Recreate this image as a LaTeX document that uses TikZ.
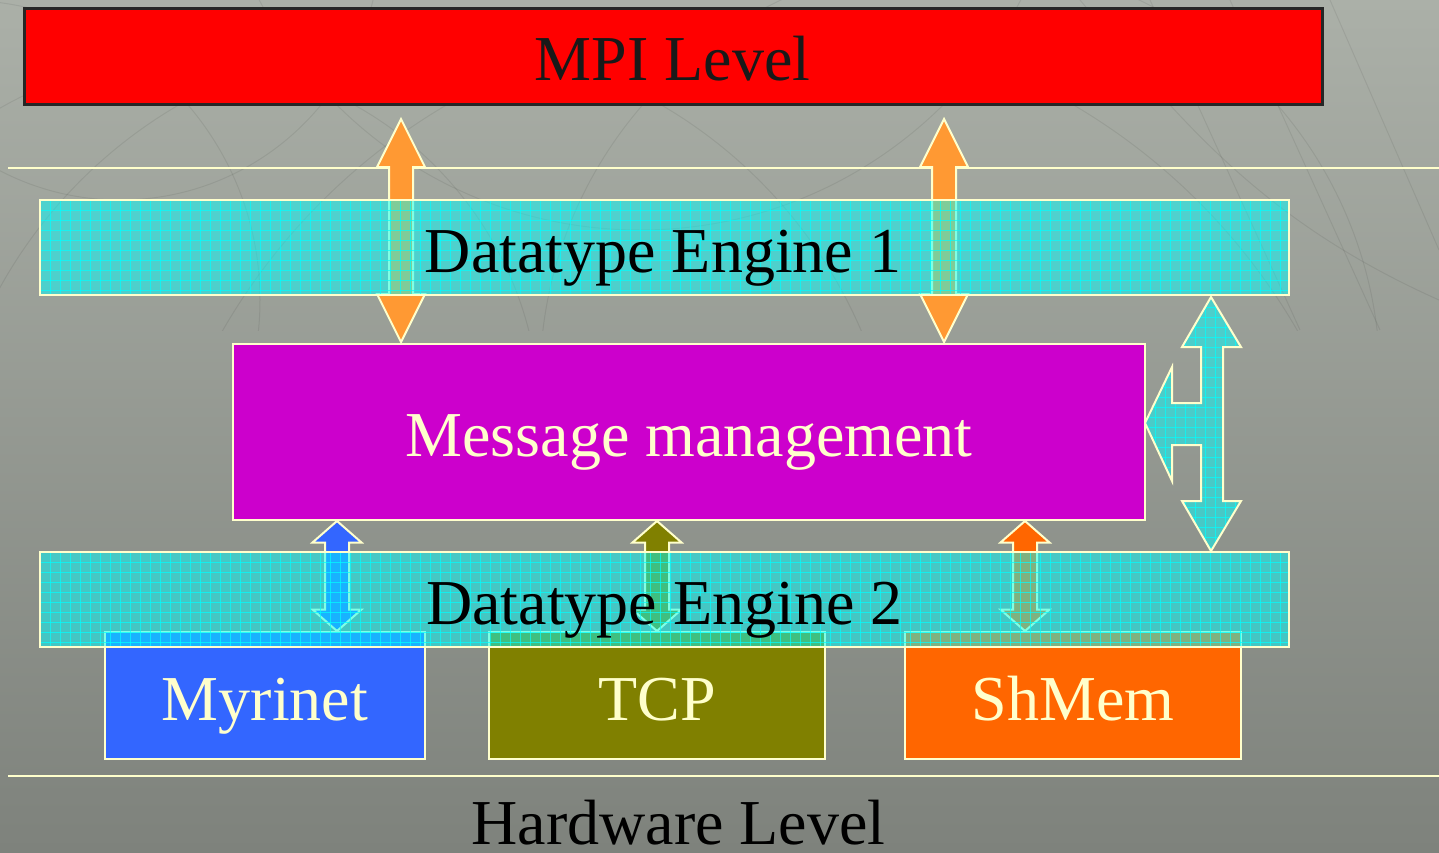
\documentclass[tikz,border=0pt]{standalone}
\usepackage{fontspec}
\setmainfont{Liberation Serif}
\usetikzlibrary{calc}

\definecolor{bgtop}{HTML}{ABB0A8}
\definecolor{bgbot}{HTML}{7E827C}
\definecolor{cream}{HTML}{FFFFCC}
\definecolor{mpired}{HTML}{FF0000}
\definecolor{mag}{HTML}{CC00CC}
\definecolor{ora}{HTML}{FF9933}
\definecolor{myri}{HTML}{3366FF}
\definecolor{tcpol}{HTML}{808000}
\definecolor{shm}{HTML}{FF6600}
\definecolor{cyanfill}{HTML}{00FFFF}

% vertical double block arrow: #1 style, #2 x, #3 top tip y, #4 bottom tip y
% shaft half width \aw, head half width \ah, head length \al
\newcommand\dblarrow[4]{%
  \path[#1] (#2,#3) -- ({#2+\ah},{#3+\al}) -- ({#2+\aw},{#3+\al})
    -- ({#2+\aw},{#4-\al}) -- ({#2+\ah},{#4-\al}) -- (#2,#4)
    -- ({#2-\ah},{#4-\al}) -- ({#2-\aw},{#4-\al}) -- ({#2-\aw},{#3+\al})
    -- ({#2-\ah},{#3+\al}) -- cycle;}

% mesh of thin cyan lines, 10pt apart, clipped to the current path
\newcommand\meshlines{%
  \foreach \i in {0,10,...,1260}
    \draw[cyanfill, line width=1pt, draw opacity=.7]
      ([xshift=\i pt]path picture bounding box.north west) --
      ([xshift=\i pt]path picture bounding box.south west);
  \foreach \j in {0,10,...,260}
    \draw[cyanfill, line width=1pt, draw opacity=.7]
      ([yshift=-\j pt]path picture bounding box.north west) --
      ([yshift=-\j pt]path picture bounding box.north east);}

\tikzset{
  box/.style={draw=cream, line width=2pt, inner sep=0pt, outer sep=0pt, anchor=north west},
  meshfill/.style={fill=cyanfill, fill opacity=.5, text opacity=1,
    path picture={\meshlines}},
  debox/.style={box, meshfill},
  barrow/.style={draw=cream, line width=2pt, fill=#1, line join=miter},
  lbl/.style={font=\fontsize{64}{64}\selectfont, anchor=base, inner sep=0pt},
  sepline/.style={cream, line width=2pt},
  bgcurve/.style={black, line width=1pt, draw opacity=.07},
}

\begin{document}
\begin{tikzpicture}[x=1pt,y=-1pt]
  \useasboundingbox (0,0) rectangle (1439,852);
  % backdrop
  \shade[top color=bgtop, bottom color=bgbot] (0,0) rectangle (1439,852);
  \begin{scope}
    \clip (0,0) rectangle (1439,330);
    \draw[bgcurve] (180,420) circle[radius=360];
    \draw[bgcurve] (120,-60) circle[radius=260];
    \draw[bgcurve] (420,520) circle[radius=480];
    \draw[bgcurve] (760,640) circle[radius=620];
    \draw[bgcurve] (960,380) circle[radius=420];
    \draw[bgcurve] (-40,300) circle[radius=300];
    \draw[bgcurve] (640,-200) circle[radius=430];
    \draw[bgcurve] (1150,0) -- (1300,330);
    \draw[bgcurve] (1230,0) -- (1380,330);
    \draw[bgcurve] (1330,0) -- (1439,250);
    \draw[bgcurve] (1080,0) .. controls (1180,120) and (1260,220) .. (1439,300);
  \end{scope}

  % separators of the two levels
  \coordinate (ltopL) at (8,168);   \coordinate (ltopR) at (1439,168);
  \coordinate (lbotL) at (8,776);   \coordinate (lbotR) at (1439,776);
  \draw[sepline] (ltopL) -- (ltopR);
  \draw[sepline] (lbotL) -- (lbotR);

  % MPI level
  \node[box, draw=black!85, line width=3pt, fill=mpired,
        minimum width=1298pt, minimum height=96pt] (mpi) at (24,8) {};

  % arrows between MPI level and message management
  \def\aw{12}\def\ah{24}\def\al{48}
  \dblarrow{barrow=ora}{401}{119}{342}
  \dblarrow{barrow=ora}{944}{119}{342}

  % side arrow linking both datatype engines and message management
  \path[draw=cream, line width=2pt, meshfill]
    (1211,297) -- (1241,347) -- (1223,347) -- (1223,501) -- (1241,501)
    -- (1211,551) -- (1182,501) -- (1201,501) -- (1201,445) -- (1172,445)
    -- (1172,481) -- (1145,423) -- (1172,367) -- (1172,403) -- (1201,403)
    -- (1201,347) -- (1182,347) -- cycle;

  % hardware drivers
  \node[box, fill=myri,  minimum width=320pt, minimum height=127pt] (myr) at (105,632) {};
  \node[box, fill=tcpol, minimum width=336pt, minimum height=127pt] (tcp) at (489,632) {};
  \node[box, fill=shm,   minimum width=336pt, minimum height=127pt] (shm) at (905,632) {};

  % arrows between message management and the drivers
  \def\aw{12}\def\ah{24.5}\def\al{21.5}
  \dblarrow{barrow=myri}{337}{521}{631}
  \dblarrow{barrow=tcpol}{657}{521}{631}
  \dblarrow{barrow=shm}{1025}{521}{631}

  % datatype engines
  \node[debox, minimum width=1249pt, minimum height=95pt] (de1) at (40,200) {};
  \node[debox, minimum width=1249pt, minimum height=95pt] (de2) at (40,552) {};

  % message management
  \node[box, fill=mag, minimum width=912pt, minimum height=176pt] (msg) at (233,344) {};

  % labels
  \node[lbl, text=black!90] (tmpi) at ([xshift=-0.5pt,yshift=-24pt]mpi.center) {MPI Level};
  \node[lbl, text=black] (tde1) at ([xshift=-1.5pt,yshift=-24.5pt]de1.center) {Datatype Engine 1};
  \node[lbl, text=cream] (tmsg) at ([yshift=-24pt]msg.center) {Message management};
  \node[lbl, text=black] (tde2) at ([yshift=-24.5pt]de2.center) {Datatype Engine 2};
  \node[lbl, text=cream] (tmyr) at ([yshift=-24.5pt]myr.center) {Myrinet};
  \node[lbl, text=cream] (ttcp) at ([yshift=-24.5pt]tcp.center) {TCP};
  \node[lbl, text=cream] (tshm) at ([yshift=-24.5pt]shm.center) {ShMem};
  \node[lbl, text=black] (thw) at (678.5,844) {Hardware Level};
\end{tikzpicture}
\end{document}
